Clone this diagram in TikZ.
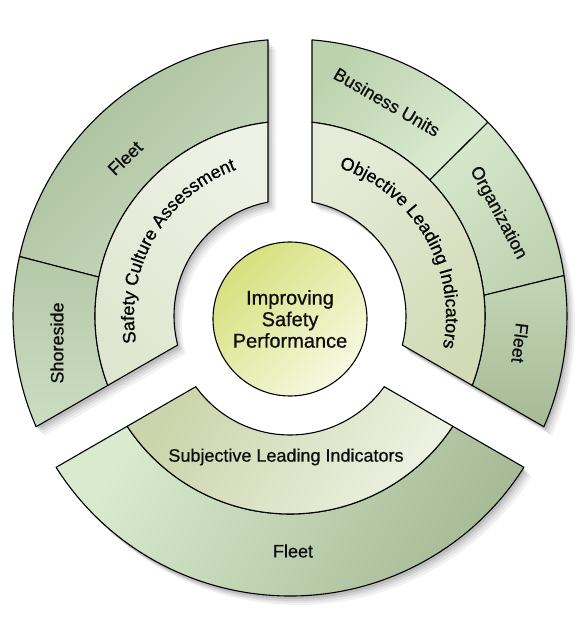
\documentclass[tikz,border=0pt]{standalone}
\usepackage{fontspec}
\setmainfont{Liberation Sans}
\newfontfamily\lblfam{Liberation Sans}[FakeBold=0.7]
\usetikzlibrary{decorations.text}
\definecolor{txt}{HTML}{0E0E0E}
\definecolor{ca1}{HTML}{A7BD98}\definecolor{ca2}{HTML}{CADCC1}
\definecolor{cb1}{HTML}{B4C9A8}\definecolor{cb2}{HTML}{CBDDC2}
\definecolor{cc1}{HTML}{EEF2E6}\definecolor{cc2}{HTML}{DEE6CF}
\definecolor{cd1}{HTML}{BCD2AE}\definecolor{cd2}{HTML}{DCECD3}
\definecolor{ce1}{HTML}{D6E8CC}\definecolor{ce2}{HTML}{BED2B1}
\definecolor{cf1}{HTML}{C2D6B6}\definecolor{cf2}{HTML}{A6BA96}
\definecolor{cg1}{HTML}{E6EBD8}\definecolor{cg2}{HTML}{D2DAB6}
\definecolor{ch1}{HTML}{D8EBCF}\definecolor{ch2}{HTML}{A5B893}
\definecolor{ci1}{HTML}{CBD4AA}\definecolor{ci2}{HTML}{EEF2E3}
\definecolor{cj1}{HTML}{D6E07C}\definecolor{cj2}{HTML}{F6F9E2}
\newcommand\lblfont{\lblfam\fontsize{18}{20}\selectfont}
\newcommand\tlshape{(100.93:116) arc[start angle=100.93,end angle=194.50,radius=116] -- (203.57:277) arc[start angle=203.57,end angle=94.56,radius=277] -- cycle}
\newcommand\trshape{(79.07:116) arc[start angle=79.07,end angle=-14.50,radius=116] -- (-23.57:277) arc[start angle=-23.57,end angle=85.44,radius=277] -- cycle}
\newcommand\btshape{(-35.69:116) arc[start angle=-35.69,end angle=-144.31,radius=116] -- (-147.62:277) arc[start angle=-147.62,end angle=-32.38,radius=277] -- cycle}
\begin{document}
\begin{tikzpicture}[x=1pt,y=1pt,line join=round,
  seg/.style={draw=black,line width=1.1pt},
  grad/.style n args={3}{top color=#1,bottom color=#2,shading angle=#3},
  lbl/.style={font=\lblfont,text=txt,inner sep=0pt}]
\useasboundingbox (-290,-301) rectangle (296,316);
% soft shadows
\foreach \dx/\dy/\op in {8/-9/0.05,6/-7/0.06,4/-5/0.08,2/-3/0.10}{
  \fill[black,opacity=\op,shift={(\dx,\dy)}] \tlshape;
  \fill[black,opacity=\op,shift={(\dx,\dy)}] \trshape;
  \fill[black,opacity=\op,shift={(\dx,\dy-3)}] \btshape;
}
% top-left sector
\path[seg,grad={ca1}{ca2}{45}] (96.48:195) arc[start angle=96.48,end angle=168.5,radius=195] -- (167.6:277) arc[start angle=167.6,end angle=94.56,radius=277] -- cycle;
\path[seg,grad={cb1}{cb2}{0}] (168.5:195) arc[start angle=168.5,end angle=200.85,radius=195] -- (203.57:277) arc[start angle=203.57,end angle=167.6,radius=277] -- cycle;
\path[seg,grad={cc1}{cc2}{-45}] (100.93:116) arc[start angle=100.93,end angle=194.50,radius=116] -- (200.85:195) arc[start angle=200.85,end angle=96.48,radius=195] -- cycle;
% top-right sector
\path[seg,grad={cd1}{cd2}{45}] (83.52:195) arc[start angle=83.52,end angle=44.2,radius=195] -- (44.4:277) arc[start angle=44.4,end angle=85.44,radius=277] -- cycle;
\path[seg,grad={ce1}{ce2}{45}] (44.2:195) arc[start angle=44.2,end angle=6.1,radius=195] -- (8.4:277) arc[start angle=8.4,end angle=44.4,radius=277] -- cycle;
\path[seg,grad={cf1}{cf2}{0}] (6.1:195) arc[start angle=6.1,end angle=-20.85,radius=195] -- (-23.57:277) arc[start angle=-23.57,end angle=8.4,radius=277] -- cycle;
\path[seg,grad={cg1}{cg2}{45}] (79.07:116) arc[start angle=79.07,end angle=-14.50,radius=116] -- (-20.85:195) arc[start angle=-20.85,end angle=83.52,radius=195] -- cycle;
% bottom sector
\begin{scope}[shift={(0,-3)}]
\path[seg,grad={ch1}{ch2}{60}] (-33.38:195) arc[start angle=-33.38,end angle=-146.62,radius=195] -- (-147.62:277) arc[start angle=-147.62,end angle=-32.38,radius=277] -- cycle;
\path[seg,grad={ci1}{ci2}{60}] (-35.69:116) arc[start angle=-35.69,end angle=-144.31,radius=116] -- (-146.62:195) arc[start angle=-146.62,end angle=-33.38,radius=195] -- cycle;
\end{scope}
% centre
\node[circle,draw=black,line width=1.1pt,minimum size=154pt,inner sep=0pt,
  grad={cj1}{cj2}{45},align=center,text=txt,
  font=\lblfam\fontsize{20}{21.5}\selectfont] (core) at (0,-3) {Improving\\Safety\\Performance};
% straight labels
\node[lbl,rotate=44] (tlfleet) at (-165,158) {Fleet};
\node[lbl,rotate=90] (shore) at (-233,-27) {Shoreside};
\node[lbl,rotate=-30] (bu) at (97,214) {Business Units};
\node[lbl,rotate=-62] (org) at (208,103) {Organization};
\node[lbl,rotate=-97] (trfleet) at (230,-27) {Fleet};
\node[lbl] (bfleet) at (3,-235) {Fleet};
\node[lbl] (subj) at (-4,-141) {Subjective Leading Indicators};
% curved labels
\path[decorate,decoration={text along path,text align=center,
  text={|\lblfont|Safety Culture Assessment}}]
  (202:156) arc[start angle=202,end angle=98,radius=156];
\path[decorate,decoration={text along path,text align=center,
  text={|\lblfont|Objective Leading Indicators}}]
  (82:156) arc[start angle=82,end angle=-22,radius=156];
\end{tikzpicture}
\end{document}
